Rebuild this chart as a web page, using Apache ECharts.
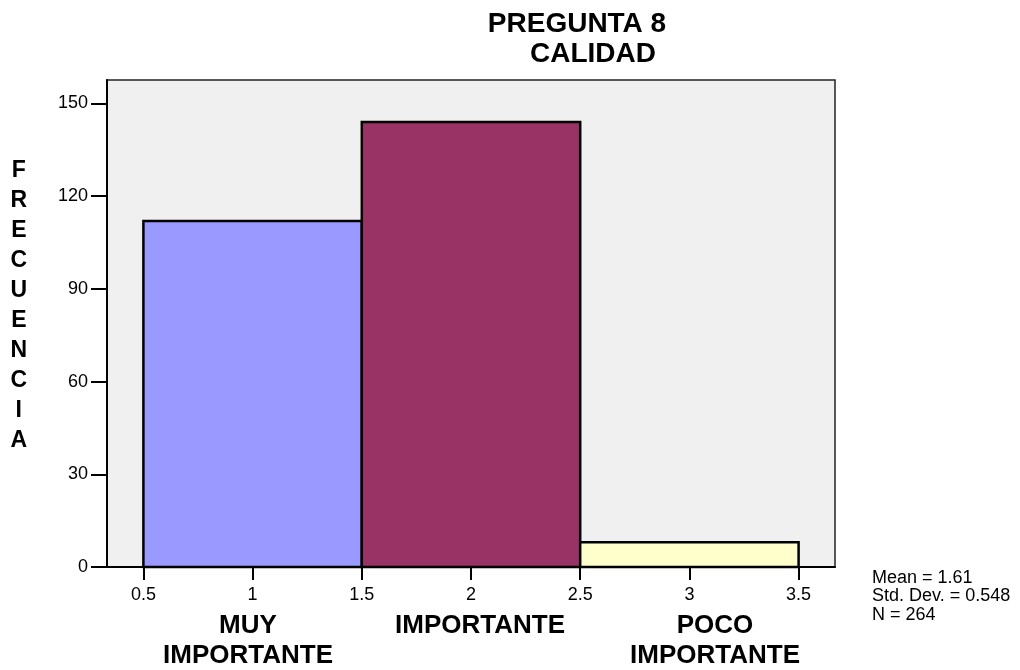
<!DOCTYPE html>
<html>
<head>
<meta charset="utf-8">
<script src="https://cdn.jsdelivr.net/npm/echarts@6/dist/echarts.min.js"></script>
<style>html,body{margin:0;padding:0;background:#fff}#c{width:1020px;height:670px}</style>
</head>
<body>
<div id="c"></div>
<script>
// ---- data ----
const binStart = [0.5, 1.5, 2.5];
const binEnd = [1.5, 2.5, 3.5];
const counts = [112, 144, 8];
const barColors = ['#9999FF', '#993366', '#FFFFCC'];
const xTicks = [0.5, 1, 1.5, 2, 2.5, 3, 3.5];
const yTicks = [0, 30, 60, 90, 120, 150];
const categoryLabels = ['MUY\nIMPORTANTE', 'IMPORTANTE', 'POCO\nIMPORTANTE'];
const titleLines = ['PREGUNTA 8', 'CALIDAD'];
const yAxisTitle = 'FRECUENCIA';
const statsLines = ['Mean = 1.61', 'Std. Dev. = 0.548', 'N = 264'];

const FONT = '"Liberation Sans", Arial, Helvetica, sans-serif';
const chart = echarts.init(document.getElementById('c'), null, {renderer: 'canvas'});

const graphics = [];
// title
const titlePos = [[577, 24], [593, 54]];
titleLines.forEach((t, i) => graphics.push({
  type: 'text', x: titlePos[i][0], y: titlePos[i][1],
  style: {text: t, fill: '#000', font: 'bold 28px ' + FONT, align: 'center', verticalAlign: 'middle'}
}));
// vertical y axis title
yAxisTitle.split('').forEach((ch, i) => graphics.push({
  type: 'text', x: 18.8, y: 171 + i * 30,
  style: {text: ch, fill: '#000', font: 'bold 23px ' + FONT, align: 'center', verticalAlign: 'middle'}
}));
// category labels
const catPos = [248, 480, 715];
categoryLabels.forEach((t, i) => graphics.push({
  type: 'text', x: catPos[i], y: 611,
  style: {text: t, fill: '#000', font: 'bold 26px ' + FONT, align: 'center', verticalAlign: 'top', lineHeight: 30}
}));
// stats
statsLines.forEach((t, i) => graphics.push({
  type: 'text', x: 872, y: 578 + i * 18.5,
  style: {text: t, fill: '#000', font: '18px ' + FONT, align: 'left', verticalAlign: 'middle'}
}));

chart.setOption({
  backgroundColor: '#fff',
  animation: false,
  grid: {left: 107, right: 185, top: 80, bottom: 103, show: true,
    backgroundColor: '#F0F0F0', borderColor: '#222', borderWidth: 1.5},
  xAxis: {
    type: 'value', min: 1/3, max: 11/3,
    splitLine: {show: false},
    axisLine: {show: true, onZero: false, lineStyle: {color: '#000', width: 2}},
    axisTick: {show: true, length: 13, lineStyle: {color: '#000', width: 2}, customValues: xTicks},
    axisLabel: {color: '#000', fontSize: 18, fontFamily: FONT, margin: 19, customValues: xTicks,
      formatter: v => String(v)}
  },
  yAxis: {
    type: 'value', min: 0, max: 157.6,
    splitLine: {show: false},
    axisLine: {show: true, lineStyle: {color: '#000', width: 2}},
    axisTick: {show: true, length: 16, lineStyle: {color: '#000', width: 2}, customValues: yTicks},
    axisLabel: {color: '#000', fontSize: 18, fontFamily: FONT, margin: 19, customValues: yTicks}
  },
  series: [{
    type: 'custom',
    encode: {x: [0, 1], y: 2},
    data: binStart.map((s, i) => [s, binEnd[i], counts[i]]),
    renderItem: function (params, api) {
      const p0 = api.coord([api.value(0), api.value(2)]);
      const p1 = api.coord([api.value(1), 0]);
      return {
        type: 'rect',
        shape: {x: p0[0], y: p0[1], width: p1[0] - p0[0], height: p1[1] - p0[1]},
        style: {fill: barColors[params.dataIndex], stroke: '#000', lineWidth: 2.5}
      };
    }
  }],
  graphic: graphics
});
</script>
</body>
</html>
